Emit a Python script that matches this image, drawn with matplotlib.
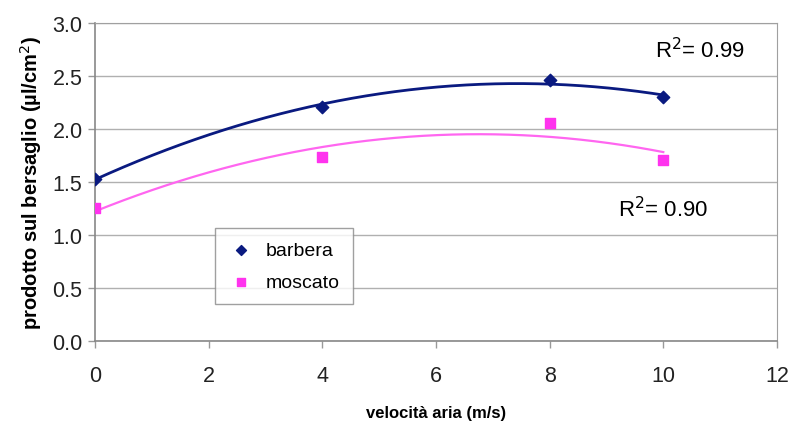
import numpy as np
import matplotlib
matplotlib.use("Agg")
import matplotlib.pyplot as plt

plt.rcParams["font.family"] = ["Liberation Sans", "DejaVu Sans"]

velocita = [0, 4, 8, 10]
barbera = [1.53, 2.21, 2.46, 2.30]
moscato = [1.25, 1.74, 2.06, 1.71]
r2_labels = ["R$^2$= 0.99", "R$^2$= 0.90"]

NAVY = "#0a1a80"
PINK = "#ff33ee"
PINK_LINE = "#ff66f0"

fig = plt.figure(figsize=(7.92, 4.27), dpi=100)
ax = fig.add_axes([0.12, 0.199, 0.861, 0.745])

# quadratic trend lines (like Excel polynomial trendline)
xs = np.linspace(0, 10, 200)
for vals, col, lw in [(barbera, NAVY, 2.0), (moscato, PINK_LINE, 1.6)]:
    coef = np.polyfit(velocita, vals, 2)
    ax.plot(xs, np.polyval(coef, xs), color=col, lw=lw, zorder=2)

ax.scatter(velocita, barbera, marker="D", s=40, color=NAVY, zorder=3, label="barbera")
ax.scatter(velocita, moscato, marker="s", s=45, color=PINK, zorder=3, label="moscato")

ax.set_xlim(0, 12)
ax.set_ylim(0, 3.0)
ax.set_xticks(range(0, 13, 2))
ax.set_yticks(np.arange(0, 3.01, 0.5))
ax.set_yticklabels([f"{v:.1f}" for v in np.arange(0, 3.01, 0.5)])
ax.tick_params(labelsize=15.5, colors="#222222", length=5, width=1, direction="out")
ax.tick_params(axis="x", pad=12, color="#999999")
ax.tick_params(axis="y", pad=4, color="#999999")
ax.yaxis.grid(True, color="#b0b0b0", lw=1)
ax.set_axisbelow(True)
for side in ["top", "right"]:
    ax.spines[side].set_color("#a0a0a0")
for side in ["left", "bottom"]:
    ax.spines[side].set_color("#888888")
    ax.spines[side].set_linewidth(1.2)

ax.set_xlabel("velocità aria (m/s)", fontsize=12, fontweight="bold", labelpad=14)
ax.set_ylabel("prodotto sul bersaglio (µl/cm$^2$)", fontsize=14.5, fontweight="bold", labelpad=6)

ax.text(10.65, 2.75, r2_labels[0], fontsize=16, ha="center", va="center")
ax.text(10.0, 1.25, r2_labels[1], fontsize=16, ha="center", va="center")

leg = ax.legend(loc="upper left", bbox_to_anchor=(0.162, 0.385), fontsize=14,
                frameon=True, fancybox=False, edgecolor="#888888", markerscale=0.8,
                handlelength=1.2, handletextpad=0.7, borderpad=0.7, labelspacing=0.7)
leg.get_frame().set_linewidth(1)

fig.savefig("out.png", dpi=100)
